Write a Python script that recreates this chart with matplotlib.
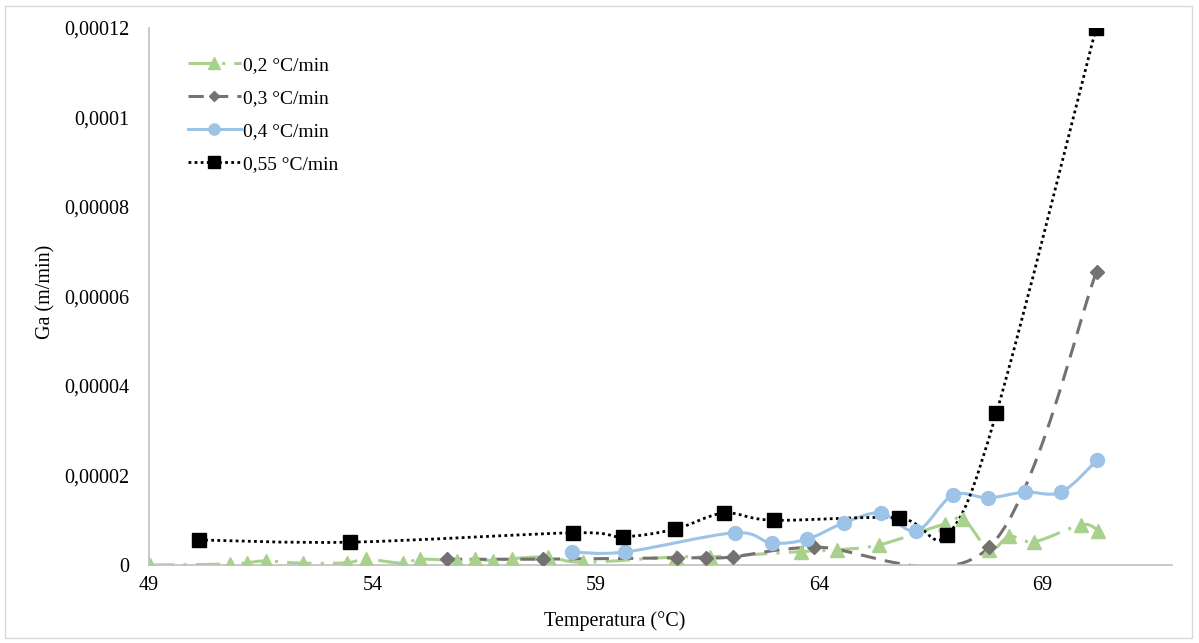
import numpy as np
import matplotlib
matplotlib.use("Agg")
import matplotlib.pyplot as plt
from matplotlib.path import Path
from matplotlib.patches import PathPatch, Rectangle
from matplotlib.lines import Line2D
from matplotlib.ticker import FuncFormatter

# dados
t_02 = [49.02, 50.81, 51.19, 51.62, 52.45, 53.43, 53.85, 54.68, 55.06, 55.89, 56.29, 56.70,
        57.12, 57.93, 58.71, 60.79, 61.55, 63.59, 64.39, 65.35, 66.81, 67.23, 67.81, 68.26,
        68.82, 69.87, 70.25]
ga_02 = [0.0, 0.2e-6, 0.5e-6, 0.9e-6, 0.4e-6, 0.5e-6, 1.3e-6, 0.4e-6, 1.3e-6, 1.0e-6, 1.3e-6,
         1.0e-6, 1.4e-6, 1.8e-6, 0.6e-6, 1.8e-6, 1.8e-6, 3.0e-6, 3.4e-6, 4.5e-6, 9.2e-6,
         1.03e-5, 3.4e-6, 6.4e-6, 5.2e-6, 9.0e-6, 7.7e-6]

t_03 = [55.67, 57.81, 60.83, 61.46, 62.07, 63.88, 67.81, 70.21]
ga_03 = [1.3e-6, 1.3e-6, 1.6e-6, 1.6e-6, 1.8e-6, 4.0e-6, 4.0e-6, 6.55e-5]

t_04 = [58.46, 59.65, 62.11, 62.94, 63.74, 64.55, 65.38, 66.18, 66.99, 67.79, 68.60, 69.42, 70.23]
ga_04 = [2.9e-6, 2.9e-6, 7.2e-6, 4.9e-6, 5.8e-6, 9.4e-6, 1.16e-5, 7.6e-6, 1.56e-5, 1.50e-5,
         1.63e-5, 1.63e-5, 2.35e-5]

t_055 = [50.12, 53.50, 58.50, 59.60, 60.77, 61.87, 62.98, 65.78, 66.87, 67.97, 70.20]
ga_055 = [5.6e-6, 5.1e-6, 7.2e-6, 6.3e-6, 8.0e-6, 1.16e-5, 1.0e-5, 1.05e-5, 6.7e-6, 3.4e-5, 1.2e-4]

labels = ["0,2 °C/min", "0,3 °C/min", "0,4 °C/min", "0,55 °C/min"]
xticks = [49, 54, 59, 64, 69]
yticks = [0, 0.00002, 0.00004, 0.00006, 0.00008, 0.0001, 0.00012]


def smooth_path(x, y):
    # curva suavizada tipo Excel (bezier com tangentes catmull-rom)
    p = np.column_stack([x, y])
    n = len(p)
    verts = [p[0]]
    codes = [Path.MOVETO]
    for i in range(n - 1):
        p0 = p[i - 1] if i > 0 else p[i]
        p1 = p[i]
        p2 = p[i + 1]
        p3 = p[i + 2] if i + 2 < n else p[i + 1]
        c1 = p1 + (p2 - p0) / 6.0
        c2 = p2 - (p3 - p1) / 6.0
        verts += [c1, c2, p2]
        codes += [Path.CURVE4] * 3
    return Path(verts, codes)


plt.rcParams['font.family'] = ['Liberation Serif', 'DejaVu Serif']

fig = plt.figure(figsize=(11.99, 6.43), dpi=100)
ax = fig.add_axes([149 / 1199, 1 - 565 / 643, (1172 - 149) / 1199, (565 - 28) / 643])

series = [
    (t_02, ga_02, dict(color="#A9D18E", ls=(0, (8, 3, 1, 3)), lw=2.2, marker="^", ms=10)),
    (t_03, ga_03, dict(color="#767171", ls=(0, (5, 3)), lw=2.2, marker="D", ms=7)),
    (t_04, ga_04, dict(color="#9DC3E6", ls="-", lw=2.2, marker="o", ms=10)),
    (t_055, ga_055, dict(color="#000000", ls=(0, (1, 1.2)), lw=2.0, marker="s", ms=10)),
]

handles = []
for (x, y, st), lab in zip(series, labels):
    patch = PathPatch(smooth_path(x, y), fill=False, edgecolor=st["color"],
                      linestyle=st["ls"], lw=st["lw"], zorder=2)
    ax.add_patch(patch)
    ax.plot(x, y, ls="none", marker=st["marker"], ms=st["ms"], color=st["color"],
            markeredgecolor=st["color"], zorder=3)
    handles.append(Line2D([0], [0], color=st["color"], ls=st["ls"], lw=st["lw"],
                          marker=st["marker"], ms=st["ms"] * 0.8))

ax.set_xlim(49, 71.9)
ax.set_ylim(0, 0.00012)
ax.set_xticks(xticks)
ax.set_yticks(yticks)
ax.yaxis.set_major_formatter(FuncFormatter(
    lambda v, p: "0" if v == 0 else ("%.5f" % v).rstrip("0").replace(".", ",")))
ax.tick_params(length=0, labelsize=14.5, pad=14)
ax.tick_params(axis="x", pad=8)
for s in ["top", "right"]:
    ax.spines[s].set_visible(False)
for s in ["left", "bottom"]:
    ax.spines[s].set_color("#BFBFBF")
    ax.spines[s].set_linewidth(1.2)

ax.set_xlabel("Temperatura (°C)", fontsize=14.5, labelpad=9)
ax.xaxis.set_label_coords((615 - 149) / (1172 - 149), -0.085)
ax.set_ylabel("Ga (m/min)", fontsize=14.5)
ax.yaxis.set_label_coords((55 - 149) / (1172 - 149), (565 - 292) / 537)

leg = ax.legend(handles, labels, loc="upper left",
                bbox_to_anchor=((188 - 149) / 1023, (565 - 56) / 537),
                frameon=False, fontsize=14, handlelength=2.7, handletextpad=0.15,
                labelspacing=0.8, borderpad=0, borderaxespad=0)

fig.patches.append(Rectangle((5 / 1199, 5 / 643), 1187 / 1199, 632 / 643,
                             transform=fig.transFigure, fill=False,
                             edgecolor="#D9D9D9", lw=1.0))

fig.savefig("out.png", dpi=100)
